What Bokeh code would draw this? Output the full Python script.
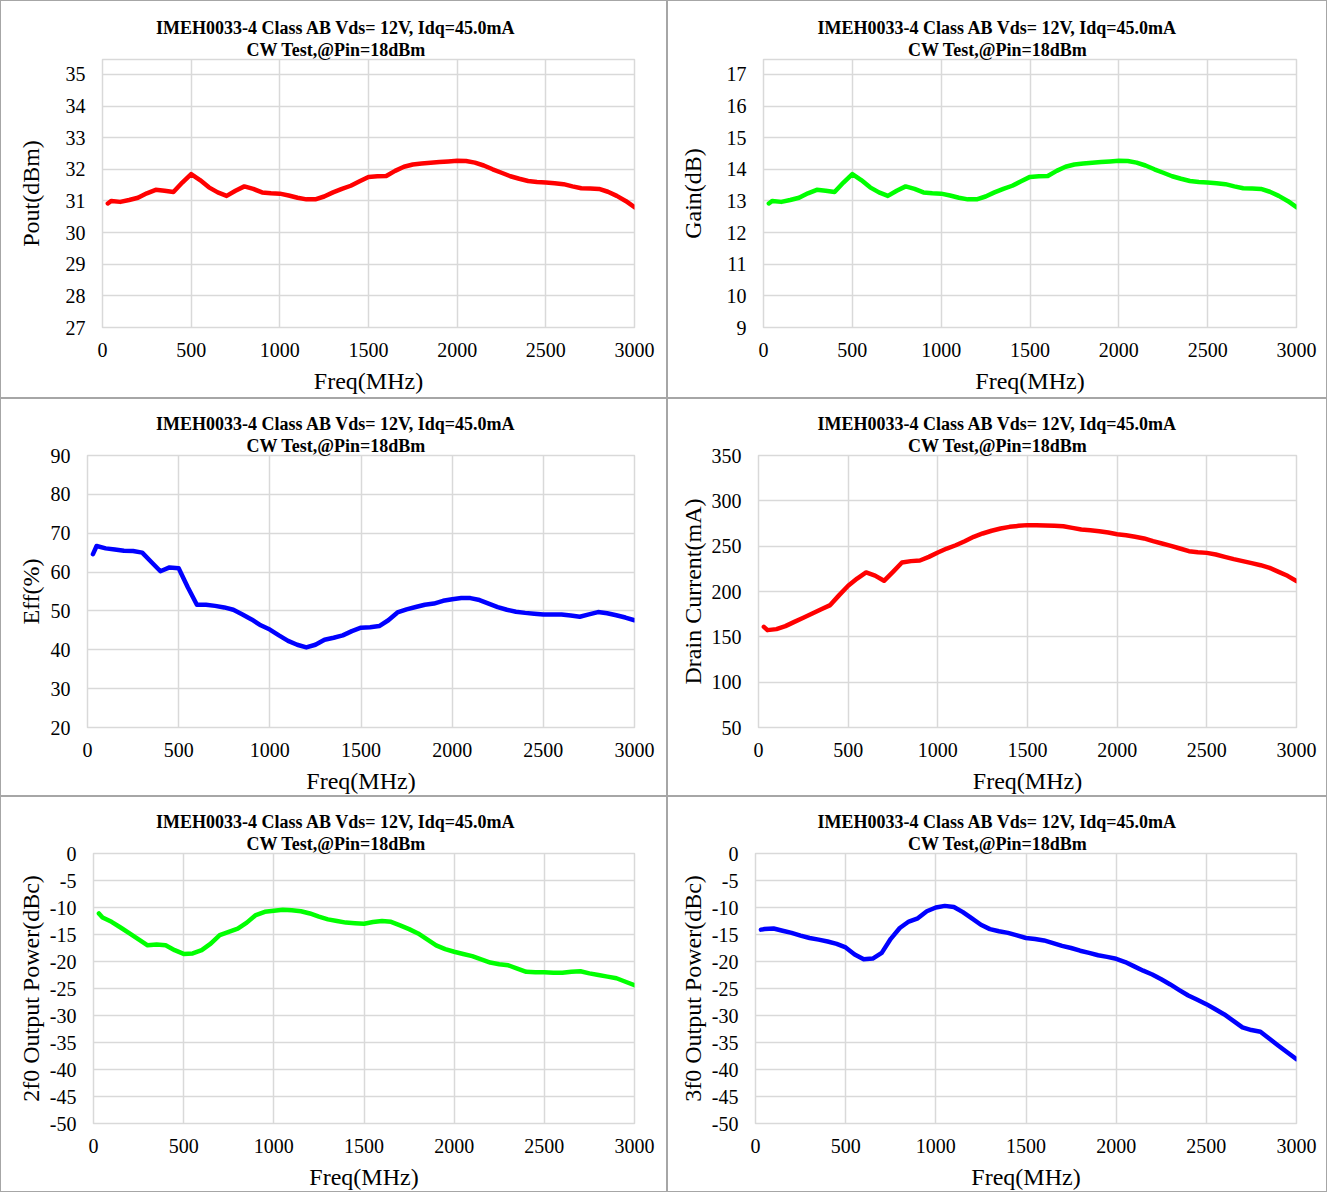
from bokeh.plotting import figure
from bokeh.layouts import column, row
from bokeh.models import Range1d, SingleIntervalTicker, Title
from bokeh.embed import file_html
from bokeh.resources import INLINE

# ---------------- data ----------------
freq_mhz = [30, 50, 100, 150, 200, 250, 300, 350, 400,
            450, 500, 550, 600, 650, 700, 750, 800, 850, 900,
            950, 1000, 1050, 1100, 1150, 1200, 1250, 1300, 1350, 1400,
            1450, 1500, 1550, 1600, 1650, 1700, 1750, 1800, 1850, 1900,
            1950, 2000, 2050, 2100, 2150, 2200, 2250, 2300, 2350, 2400,
            2450, 2500, 2550, 2600, 2650, 2700, 2750, 2800, 2850, 2900,
            2950, 3000]

pout_dbm = [30.92, 31.00, 30.97, 31.03, 31.10, 31.24, 31.35, 31.32, 31.28,
            31.58, 31.85, 31.66, 31.43, 31.27, 31.16, 31.32, 31.46, 31.38, 31.27,
            31.24, 31.23, 31.17, 31.10, 31.05, 31.05, 31.14, 31.27, 31.38, 31.48,
            31.62, 31.76, 31.78, 31.79, 31.95, 32.08, 32.15, 32.18, 32.21, 32.23,
            32.25, 32.27, 32.26, 32.21, 32.12, 32.00, 31.89, 31.78, 31.70, 31.63,
            31.60, 31.58, 31.56, 31.53, 31.46, 31.40, 31.39, 31.38, 31.29, 31.16,
            31.00, 30.80]

gain_db = [12.92, 13.00, 12.97, 13.03, 13.10, 13.24, 13.35, 13.32, 13.28,
           13.58, 13.85, 13.66, 13.43, 13.27, 13.16, 13.32, 13.46, 13.38, 13.27,
           13.24, 13.23, 13.17, 13.10, 13.05, 13.05, 13.14, 13.27, 13.38, 13.48,
           13.62, 13.76, 13.78, 13.79, 13.95, 14.08, 14.15, 14.18, 14.21, 14.23,
           14.25, 14.27, 14.26, 14.21, 14.12, 14.00, 13.89, 13.78, 13.70, 13.63,
           13.60, 13.58, 13.56, 13.53, 13.46, 13.40, 13.39, 13.38, 13.29, 13.16,
           13.00, 12.80]

eff_pct = [64.6, 66.7, 66.1, 65.8, 65.5, 65.4, 65.0, 62.6, 60.2,
           61.2, 61.0, 56.1, 51.6, 51.6, 51.3, 50.9, 50.3, 49.1, 47.8,
           46.3, 45.2, 43.7, 42.3, 41.3, 40.6, 41.3, 42.6, 43.1, 43.7,
           44.8, 45.7, 45.8, 46.1, 47.6, 49.6, 50.4, 51.0, 51.6, 51.9,
           52.6, 53.0, 53.3, 53.3, 52.8, 51.9, 51.0, 50.3, 49.8, 49.5,
           49.3, 49.1, 49.1, 49.1, 48.8, 48.5, 49.1, 49.7, 49.4, 48.9,
           48.3, 47.6]

drain_ma = [161.0, 157.4, 158.5, 161.8, 166.5, 171.0, 175.7, 180.5, 185.0,
            196.0, 206.3, 214.3, 221.0, 217.5, 211.8, 221.7, 232.0, 233.5, 234.2,
            238.2, 243.0, 247.4, 251.0, 255.5, 260.3, 264.0, 267.0, 269.5, 271.3,
            272.4, 273.2, 273.2, 272.8, 272.4, 272.0, 270.2, 268.4, 267.6, 266.5,
            265.0, 263.2, 262.0, 260.3, 258.5, 255.5, 253.0, 250.4, 247.4, 244.5,
            243.4, 242.6, 240.8, 238.2, 235.7, 233.5, 231.3, 229.0, 226.1, 221.7,
            217.3, 211.4]

h2_dbc = [-11.1, -11.85, -12.65, -13.7, -14.8, -15.9, -17.0, -16.85, -17.0,
          -17.9, -18.6, -18.5, -17.9, -16.7, -15.1, -14.5, -13.9, -12.8, -11.4,
          -10.8, -10.6, -10.4, -10.5, -10.7, -11.1, -11.7, -12.2, -12.5, -12.8,
          -12.9, -13.0, -12.7, -12.5, -12.65, -13.3, -14.0, -14.8, -15.9, -17.0,
          -17.7, -18.2, -18.6, -19.0, -19.6, -20.2, -20.5, -20.7, -21.3, -21.9,
          -22.0, -22.0, -22.1, -22.1, -21.9, -21.8, -22.2, -22.5, -22.8, -23.1,
          -23.75, -24.4]

h3_dbc = [-14.1, -14.0, -13.9, -14.3, -14.7, -15.2, -15.65, -15.95, -16.3,
          -16.75, -17.4, -18.7, -19.6, -19.45, -18.4, -15.8, -13.8, -12.6, -12.0,
          -10.7, -10.0, -9.7, -9.9, -10.85, -12.0, -13.2, -14.0, -14.4, -14.7,
          -15.15, -15.65, -15.85, -16.1, -16.6, -17.1, -17.5, -18.0, -18.4, -18.85,
          -19.15, -19.5, -20.1, -20.9, -21.7, -22.4, -23.3, -24.25, -25.3, -26.3,
          -27.1, -27.9, -28.85, -29.8, -31.0, -32.2, -32.7, -33.0, -34.3, -35.6,
          -36.85, -38.1]

title_line1 = "IMEH0033-4 Class AB Vds= 12V, Idq=45.0mA"
title_line2 = "CW Test,@Pin=18dBm"
x_label = "Freq(MHz)"

y_labels = ["Pout(dBm)", "Gain(dB)", "Eff(%)", "Drain Current(mA)",
            "2f0 Output Power(dBc)", "3f0 Output Power(dBc)"]
series = [pout_dbm, gain_db, eff_pct, drain_ma, h2_dbc, h3_dbc]
colors = ["#ff0000", "#00ff00", "#0000ff", "#ff0000", "#00ff00", "#0000ff"]
y_ranges = [(27, 35.47), (9, 17.47), (20, 90), (50, 350), (-50, 0), (-50, 0)]
y_steps = [1, 1, 10, 50, 5, 5]

# ---------------- layout parameters ----------------
FONT = "Liberation Serif"
col_w = [667, 660]
row_h = [398, 398, 396]
# (frame left, frame right border, top border, bottom border, ylabel standoff, title centre x)
layout = [
    (102, 33, 59, 71, 19, 336.5),
    (96, 31, 59, 71, 18, 331),
    (87, 33, 57, 69, 4, 336.5),
    (91, 31, 57, 69, 3, 331),
    (93, 33, 57, 68, 3, 336.5),
    (88, 31, 57, 68, 3, 331),
]
title_widths = [362, 181]   # approx. rendered widths of the two title lines


def make_panel(i):
    r, c = divmod(i, 2)
    W, H = col_w[c], row_h[r]
    left, right, top, bottom, ystand, tcx = layout[i]
    p = figure(width=W, height=H, output_backend="svg", toolbar_location=None,
               x_range=Range1d(0, 3000), y_range=Range1d(*y_ranges[i]),
               min_border_left=left, min_border_right=right,
               min_border_top=top, min_border_bottom=bottom,
               border_fill_color=None, background_fill_color="white",
               outline_line_color="#d9d9d9", outline_line_width=1.5)
    p.styles = {"box-shadow": "inset 0 0 0 1px #a6a6a6", "background-color": "white"}

    p.xaxis.ticker = SingleIntervalTicker(interval=500)
    p.yaxis.ticker = SingleIntervalTicker(interval=y_steps[i])
    for ax in (p.xaxis[0], p.yaxis[0]):
        ax.axis_line_color = None
        ax.major_tick_line_color = None
        ax.minor_tick_line_color = None
        ax.major_tick_out = 0
        ax.minor_tick_out = 0
        ax.major_label_text_font = FONT
        ax.major_label_text_font_size = "20px"
        ax.major_label_text_color = "#000000"
        ax.axis_label_text_font = FONT
        ax.axis_label_text_font_size = "24px"
        ax.axis_label_text_font_style = "normal"
        ax.axis_label_text_color = "#000000"
    p.xaxis.axis_label = x_label
    p.xaxis.major_label_standoff = 15
    p.xaxis.axis_label_standoff = 8
    p.yaxis.axis_label = y_labels[i]
    p.yaxis.major_label_standoff = 17
    p.yaxis.axis_label_standoff = ystand
    lo, hi = y_ranges[i]
    if lo < 0:
        ticks = list(range(int(lo), int(hi) + 1, y_steps[i]))
        p.yaxis.major_label_overrides = {t: str(t) for t in ticks}

    p.xgrid.grid_line_color = "#d9d9d9"
    p.ygrid.grid_line_color = "#d9d9d9"
    p.xgrid.grid_line_width = 1.5
    p.ygrid.grid_line_width = 1.5

    p.line(freq_mhz, series[i], line_color=colors[i], line_width=4.5,
           line_join="round", line_cap="round")

    # two centred title lines (line 2 nearest the plot)
    for txt, tw in [(title_line2, title_widths[1]), (title_line1, title_widths[0])]:
        p.add_layout(Title(text=txt, align="left", offset=tcx - left - tw / 2,
                           standoff=0, text_font=FONT, text_font_size="18px",
                           text_font_style="bold", text_color="#000000"), "above")
    return p


panels = [make_panel(i) for i in range(6)]
page = column(row(panels[0], panels[1]), row(panels[2], panels[3]), row(panels[4], panels[5]))

open("out.html", "w").write(file_html(page, INLINE))
